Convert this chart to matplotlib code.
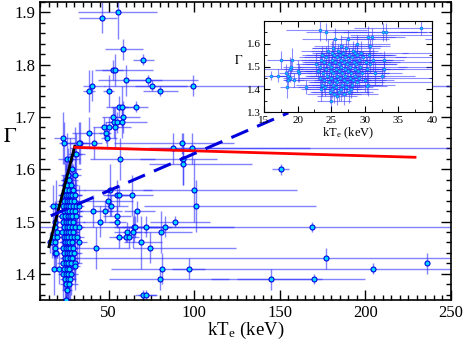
import numpy as np
import matplotlib
matplotlib.use('Agg')
import matplotlib.pyplot as plt
from matplotlib.ticker import MultipleLocator

plt.rcParams['font.family'] = ['Liberation Serif', 'DejaVu Serif']
plt.rcParams['mathtext.fontset'] = 'stix'

# (kTe, Gamma, kTe lower err, kTe upper err, Gamma err)
# points away from the main cluster
outer = [
    (46.0, 1.89, 13, 9, 0.03), (55.3, 1.90, 23, 23, 0.05), (58.2, 1.83, 10, 12, 0.02),
    (70.4, 1.81, 6, 6, 0.01), (52.4, 1.79, 10, 6, 0.02), (54.0, 1.79, 8, 22, 0.03),
    (60.0, 1.77, 16, 42, 0.03), (73.3, 1.77, 12, 8, 0.01), (75.6, 1.76, 10, 20, 0.01),
    (80.3, 1.75, 10, 10, 0.01), (40.2, 1.76, 5, 8, 0.03), (38.4, 1.75, 3, 4, 0.04),
    (50.0, 1.75, 3, 3, 0.03), (99.5, 1.76, 52, 160, 0.02), (56.4, 1.72, 8, 10, 0.02),
    (57.6, 1.72, 6, 4, 0.04), (66.3, 1.72, 8, 7, 0.01), (52.4, 1.70, 6, 6, 0.02),
    (58.2, 1.70, 5, 10, 0.03), (53.0, 1.69, 5, 5, 0.03), (54.7, 1.69, 4, 4, 0.02),
    (57.6, 1.69, 8, 15, 0.03), (47.1, 1.68, 6, 5, 0.02), (50.0, 1.68, 5, 6, 0.02),
    (54.0, 1.68, 8, 9, 0.04), (48.3, 1.67, 4, 3, 0.02), (38.4, 1.67, 10, 8, 0.03),
    (48.9, 1.66, 3, 6, 0.02), (33.2, 1.65, 8, 6, 0.04), (41.3, 1.65, 6, 5, 0.03),
    (87.8, 1.64, 60, 80, 0.03), (93.0, 1.65, 40, 30, 0.02), (98.9, 1.64, 25, 150, 0.03),
    (93.6, 1.62, 25, 20, 0.05), (93.6, 1.61, 20, 40, 0.04), (57.0, 1.62, 18, 20, 0.04),
    (150.6, 1.60, 5, 5, 0.01), (50.6, 1.56, 15, 25, 0.05), (54.7, 1.55, 8, 8, 0.03),
    (56.4, 1.55, 5, 5, 0.02), (64.0, 1.55, 15, 12, 0.04), (49.5, 1.54, 15, 15, 0.02),
    (51.2, 1.53, 10, 10, 0.02), (100.0, 1.56, 30, 60, 0.06), (101.0, 1.53, 30, 70, 0.05),
    (40.7, 1.52, 15, 12, 0.03), (47.7, 1.52, 8, 10, 0.02), (66.9, 1.52, 8, 10, 0.02),
    (55.0, 1.51, 8, 8, 0.02), (55.0, 1.50, 5, 5, 0.01), (45.0, 1.50, 10, 10, 0.03),
    (89.0, 1.50, 15, 20, 0.01), (64.6, 1.49, 10, 15, 0.03), (65.7, 1.49, 8, 20, 0.02),
    (72.0, 1.49, 10, 15, 0.02), (83.0, 1.49, 30, 40, 0.02), (61.0, 1.48, 8, 8, 0.02),
    (64.5, 1.48, 6, 8, 0.03), (80.8, 1.48, 10, 18, 0.04), (56.4, 1.47, 6, 5, 0.02),
    (60.5, 1.47, 5, 5, 0.01), (62.0, 1.47, 8, 6, 0.02), (69.0, 1.46, 10, 12, 0.05),
    (42.5, 1.45, 15, 20, 0.04), (74.4, 1.45, 10, 50, 0.03), (81.4, 1.41, 30, 25, 0.03),
    (97.0, 1.41, 10, 300, 0.02), (80.3, 1.39, 30, 40, 0.02), (70.4, 1.36, 5, 8, 0.01),
    (72.0, 1.36, 5, 6, 0.01), (168.6, 1.49, 160, 200, 0.01), (176.8, 1.43, 150, 150, 0.02),
    (204.7, 1.41, 0, 0, 0.01), (236.0, 1.42, 0, 0, 0.02), (144.8, 1.39, 20, 30, 0.02),
    (169.8, 1.39, 60, 30, 0.01),
]

# low-temperature group
left = [
    (16.1, 1.46, 1.5, 2, 0.02), (17.1, 1.46, 1, 1.5, 0.03), (18.3, 1.47, 1, 1.5, 0.04),
    (18.5, 1.46, 1.5, 1, 0.03), (18.6, 1.44, 0.8, 1.2, 0.03), (18.4, 1.41, 1, 1, 0.05),
    (18.8, 1.49, 1, 2, 0.05), (19.0, 1.50, 1.2, 1.5, 0.03), (19.2, 1.53, 1.5, 2, 0.05),
    (18.9, 1.45, 1, 1, 0.02), (19.5, 1.44, 1.5, 1.5, 0.03), (20.2, 1.47, 1.5, 2, 0.04),
    (20.1, 1.48, 2, 2, 0.05), (21.3, 1.41, 2, 3, 0.03), (17.5, 1.53, 2, 2, 0.04),
]

# main cluster
cluster = [
    (23.3, 1.66, 5, 7, 0.05), (24.3, 1.65, 3, 6, 0.04), (32.7, 1.65, 6, 5, 0.04),
    (30.5, 1.63, 4, 4, 0.05), (31.0, 1.63, 3, 5, 0.04), (25.6, 1.62, 5, 8, 0.05),
    (27.5, 1.62, 3, 4, 0.04), (28.8, 1.60, 4, 5, 0.04), (30.7, 1.59, 3, 3, 0.03),
    (26.4, 1.59, 4, 6, 0.05), (25.2, 1.58, 3, 4, 0.04), (27.2, 1.58, 5, 5, 0.04),
    (24.5, 1.57, 4, 5, 0.05), (26.0, 1.57, 4, 6, 0.03), (28.3, 1.57, 3, 3, 0.04),
    (25.1, 1.56, 3, 3, 0.05), (26.7, 1.56, 4, 5, 0.04), (28.6, 1.56, 3, 4, 0.04),
    (29.5, 1.56, 6, 7, 0.05), (23.6, 1.55, 3, 4, 0.04), (25.4, 1.55, 3, 6, 0.04),
    (26.3, 1.55, 5, 8, 0.05), (27.6, 1.55, 4, 4, 0.03), (28.9, 1.55, 5, 5, 0.04),
    (30.6, 1.55, 3, 4, 0.05), (24.2, 1.54, 4, 5, 0.05), (25.8, 1.54, 3, 3, 0.04),
    (27.0, 1.54, 6, 6, 0.05), (28.1, 1.54, 4, 8, 0.04), (29.8, 1.54, 3, 3, 0.03),
    (23.5, 1.53, 3, 4, 0.04), (25.1, 1.53, 4, 5, 0.05), (26.5, 1.53, 5, 7, 0.04),
    (27.7, 1.53, 3, 4, 0.05), (29.1, 1.53, 5, 5, 0.04), (31.2, 1.53, 4, 3, 0.05),
    (32.9, 1.53, 3, 3, 0.04), (24.0, 1.52, 3, 5, 0.04), (25.6, 1.52, 5, 5, 0.04),
    (26.9, 1.52, 4, 7, 0.03), (28.4, 1.52, 4, 3, 0.05), (30.2, 1.52, 3, 5, 0.04),
    (22.8, 1.51, 3, 4, 0.05), (24.6, 1.51, 4, 4, 0.05), (26.1, 1.51, 3, 5, 0.04),
    (27.3, 1.51, 6, 6, 0.04), (28.7, 1.51, 3, 6, 0.05), (30.8, 1.51, 4, 4, 0.04),
    (23.4, 1.50, 3, 6, 0.05), (25.0, 1.50, 5, 5, 0.04), (26.4, 1.50, 3, 4, 0.04),
    (27.8, 1.50, 4, 5, 0.05), (29.3, 1.50, 5, 7, 0.04), (24.3, 1.49, 4, 4, 0.04),
    (25.7, 1.49, 3, 8, 0.05), (27.0, 1.49, 5, 5, 0.03), (28.5, 1.49, 4, 4, 0.04),
    (30.4, 1.49, 3, 3, 0.05), (32.9, 1.49, 4, 3, 0.04), (23.1, 1.48, 3, 4, 0.04),
    (24.9, 1.48, 4, 6, 0.05), (26.2, 1.48, 5, 5, 0.04), (27.5, 1.48, 3, 5, 0.04),
    (29.0, 1.48, 4, 4, 0.05), (23.8, 1.47, 4, 5, 0.04), (25.3, 1.47, 3, 3, 0.05),
    (26.6, 1.47, 5, 7, 0.04), (28.0, 1.47, 4, 5, 0.05), (29.6, 1.47, 3, 4, 0.04),
    (31.5, 1.47, 4, 4, 0.05), (24.4, 1.46, 3, 5, 0.05), (25.8, 1.46, 4, 4, 0.04),
    (27.1, 1.46, 6, 6, 0.04), (28.6, 1.46, 3, 4, 0.05), (32.5, 1.46, 4, 5, 0.04),
    (23.3, 1.45, 3, 4, 0.04), (25.0, 1.45, 5, 5, 0.05), (26.3, 1.45, 3, 6, 0.04),
    (27.8, 1.45, 4, 4, 0.05), (29.2, 1.45, 4, 3, 0.04), (23.9, 1.44, 4, 4, 0.05),
    (25.5, 1.44, 3, 5, 0.04), (26.9, 1.44, 4, 4, 0.05), (28.3, 1.44, 5, 6, 0.04),
    (30.1, 1.44, 3, 3, 0.05), (24.6, 1.43, 3, 5, 0.04), (25.9, 1.43, 4, 4, 0.05),
    (27.4, 1.43, 5, 5, 0.04), (28.9, 1.43, 3, 4, 0.04), (23.7, 1.42, 4, 4, 0.05),
    (25.2, 1.42, 3, 3, 0.04), (26.6, 1.42, 5, 6, 0.05), (28.1, 1.42, 4, 4, 0.04),
    (30.5, 1.42, 3, 4, 0.05), (24.1, 1.41, 4, 5, 0.04), (25.7, 1.41, 3, 4, 0.05),
    (27.2, 1.41, 4, 4, 0.04), (30.3, 1.415, 3, 3, 0.03), (23.5, 1.40, 3, 4, 0.05),
    (25.1, 1.40, 4, 5, 0.04), (26.5, 1.40, 3, 3, 0.05), (28.0, 1.40, 4, 4, 0.04),
    (24.8, 1.39, 3, 4, 0.05), (26.2, 1.39, 4, 5, 0.04), (27.6, 1.39, 3, 3, 0.05),
    (25.4, 1.38, 4, 4, 0.04), (26.9, 1.38, 3, 5, 0.05), (25.9, 1.37, 3, 3, 0.04),
    (24.9, 1.35, 2, 3, 0.03),
]

# fitted lines
black_x = [15.2, 30.3]
black_y = [1.452, 1.644]
red_x = [30.3, 229.0]
red_y = [1.642, 1.623]
dash_x = [16.3, 155.0]
dash_y = [1.511, 1.708]

data = np.array(outer + left + cluster)
kt, gam, klo, khi, gerr = data.T

ebar_col = '#3030ff'
face_col = '#00d8ff'
edge_col = '#0000e0'

fig = plt.figure(figsize=(4.63, 3.40), dpi=100)
ax = fig.add_axes([40/463, 40/340, 411/463, 298/340])

ax.errorbar(kt, gam, xerr=[klo, khi], yerr=gerr, fmt='none', ecolor=ebar_col,
            elinewidth=1.0, alpha=0.6, capsize=0, zorder=2)
ax.plot(kt, gam, 'o', ms=3.6, mfc=face_col, mec=edge_col, mew=0.8, zorder=3)

ax.plot(black_x, black_y, color='k', lw=2, zorder=4)
ax.plot(red_x, red_y, color='#ff0000', lw=2, zorder=4)
ax.plot(dash_x, dash_y, color='#0000dd', lw=2.2, dashes=(6, 3.2), zorder=4)

ax.set_xlim(10, 250)
ax.set_ylim(1.35, 1.92)
ax.xaxis.set_major_locator(MultipleLocator(50))
ax.xaxis.set_minor_locator(MultipleLocator(5))
ax.yaxis.set_major_locator(MultipleLocator(0.1))
ax.yaxis.set_minor_locator(MultipleLocator(0.02))
ax.tick_params(which='both', direction='in', top=True, right=True, labelsize=12)
ax.tick_params(which='major', length=7, width=1)
ax.tick_params(which='minor', length=3.5, width=1)
ax.set_xlabel(r'kT$_\mathregular{e}$ (keV)', fontsize=13.5, labelpad=-1)
ax.set_ylabel(r'$\Gamma$', fontsize=15, rotation=0)
ax.yaxis.set_label_coords(-0.072, 0.515)
for s in ax.spines.values():
    s.set_linewidth(1.2)

# inset zoom on the cluster
ins = fig.add_axes([264/463, 228/340, 168/463, 91/340], zorder=5)
ins.set_facecolor('white')
ins.errorbar(kt, gam, xerr=[klo, khi], yerr=gerr, fmt='none', ecolor=ebar_col,
             elinewidth=0.8, alpha=0.55, capsize=0)
ins.plot(kt, gam, 'o', ms=2.0, mfc=face_col, mec='#2060ff', mew=0.5)
ins.set_xlim(15, 40)
ins.set_ylim(1.3, 1.7)
ins.xaxis.set_major_locator(MultipleLocator(5))
ins.xaxis.set_minor_locator(MultipleLocator(2.5))
ins.yaxis.set_minor_locator(MultipleLocator(0.05))
ins.set_yticks([1.3, 1.4, 1.5, 1.6])
ins.tick_params(which='both', direction='in', top=True, right=True, labelsize=8, pad=2)
ins.tick_params(axis='x', pad=3)
ins.tick_params(which='major', length=4)
ins.tick_params(which='minor', length=2)
ins.set_xlabel(r'kT$_\mathregular{e}$ (keV)', fontsize=9, labelpad=0)
ins.set_ylabel(r'$\Gamma$', fontsize=9, rotation=0, labelpad=2)
ins.yaxis.set_label_coords(-0.15, 0.5)

fig.savefig('out.png', dpi=100)
